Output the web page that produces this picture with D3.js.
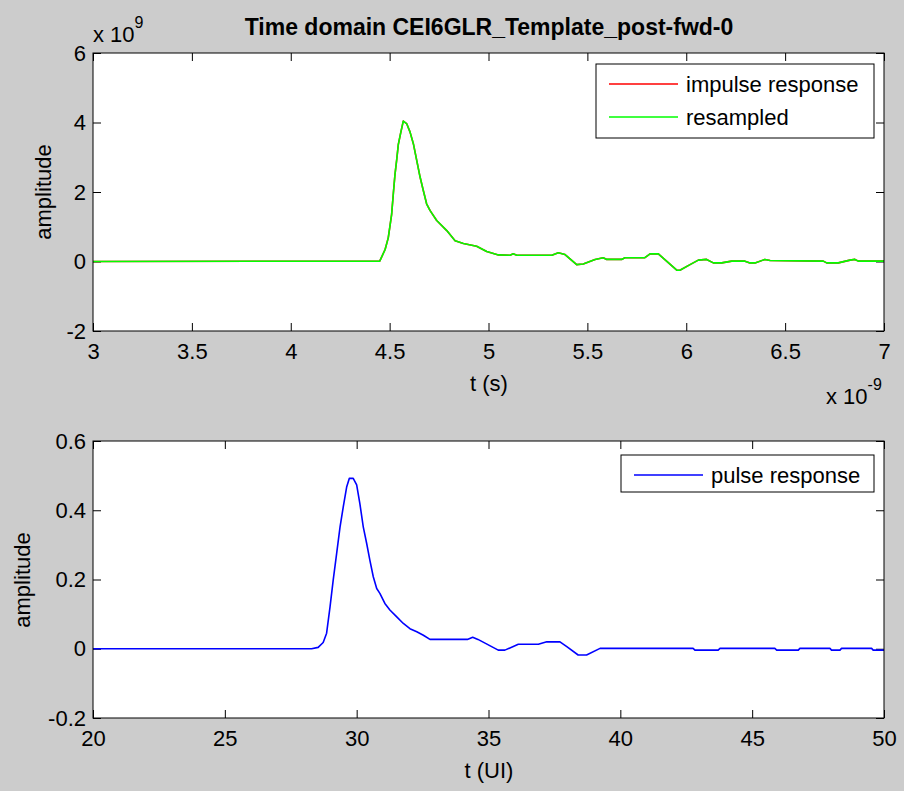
<!DOCTYPE html>
<html>
<head>
<meta charset="utf-8">
<script src="https://cdn.jsdelivr.net/npm/d3@7"></script>
<style>
  body { margin: 0; background: #cccccc; }
  svg { display: block; font-family: Arial, "Liberation Sans", Helvetica, sans-serif; }
  .axis text { font-size: 22px; fill: #000; }
  .axis line { stroke: #000; }
  .axis path { display: none; }
</style>
</head>
<body>
<div id="chart"></div>
<script>
// top plot: time (ns) and amplitude (x 1e9)
const respTime = [3.0, 4.45, 4.477, 4.493, 4.51, 4.519, 4.527, 4.536, 4.544, 4.556, 4.569, 4.586, 4.603, 4.62,
  4.637, 4.654, 4.67, 4.687, 4.704, 4.738, 4.789, 4.831, 4.873, 4.94, 4.991, 5.05, 5.109, 5.125, 5.143, 5.32,
  5.353, 5.387, 5.446, 5.479, 5.539, 5.58, 5.598, 5.673, 5.69, 5.791, 5.817, 5.859, 5.952, 5.968, 6.019, 6.061,
  6.103, 6.137, 6.179, 6.23, 6.297, 6.322, 6.348, 6.398, 6.424, 6.693, 6.71, 6.769, 6.828, 6.853, 6.87, 7.0];
const impulseVals = [0, 0.01, 0.345, 0.68, 1.35, 1.97, 2.5, 2.94, 3.37, 3.7, 4.04, 3.97, 3.73, 3.39,
  2.91, 2.43, 2.05, 1.66, 1.47, 1.18, 0.89, 0.6, 0.52, 0.44, 0.29, 0.19, 0.18, 0.22, 0.18, 0.18,
  0.25, 0.2, -0.09, -0.07, 0.06, 0.11, 0.06, 0.06, 0.11, 0.11, 0.22, 0.22, -0.25, -0.25, -0.09, 0.04,
  0.06, -0.04, -0.04, 0.01, 0.01, -0.04, -0.04, 0.06, 0.03, 0.01, -0.04, -0.04, 0.04, 0.06, 0.01, 0.01];
const resampledVals = [0, 0.01, 0.34, 0.68, 1.35, 1.97, 2.5, 2.94, 3.37, 3.7, 4.04, 3.97, 3.73, 3.39,
  2.91, 2.43, 2.05, 1.66, 1.47, 1.18, 0.89, 0.6, 0.52, 0.44, 0.29, 0.19, 0.18, 0.22, 0.18, 0.18,
  0.25, 0.2, -0.09, -0.07, 0.06, 0.11, 0.06, 0.06, 0.11, 0.11, 0.22, 0.22, -0.25, -0.25, -0.09, 0.04,
  0.06, -0.04, -0.04, 0.01, 0.01, -0.04, -0.04, 0.06, 0.03, 0.01, -0.04, -0.04, 0.04, 0.06, 0.01, 0.01];

// bottom plot: time (UI) and pulse response
const pulseTime = [20, 27.47, 28.29, 28.54, 28.73, 28.86, 28.99, 29.11, 29.24, 29.37, 29.49, 29.62, 29.72, 29.87,
  30.0, 30.12, 30.25, 30.38, 30.5, 30.63, 30.76, 30.88, 31.07, 31.26, 31.52, 31.77, 32.02, 32.28, 32.53, 32.78,
  34.2, 34.4, 34.6, 35.37, 35.62, 36.13, 36.89, 37.21, 37.71, 37.97, 38.4, 38.72, 39.23, 42.76, 42.83, 43.71,
  43.78, 45.86, 45.93, 46.75, 46.81, 47.95, 48.01, 48.33, 48.39, 49.53, 49.59, 50];
const pulseVals = [0, 0, 0, 0.004, 0.018, 0.045, 0.121, 0.198, 0.275, 0.352, 0.409, 0.467, 0.492, 0.492,
  0.473, 0.42, 0.352, 0.304, 0.256, 0.208, 0.174, 0.16, 0.131, 0.112, 0.092, 0.073, 0.058, 0.049, 0.039, 0.027,
  0.027, 0.033, 0.027, -0.004, -0.004, 0.013, 0.013, 0.02, 0.02, 0.006, -0.018, -0.018, 0.001, 0.001, -0.004, -0.004,
  0.001, 0.001, -0.004, -0.004, 0.001, 0.001, -0.004, -0.004, 0.001, 0.001, -0.004, -0.004];

const topXTicks = [3, 3.5, 4, 4.5, 5, 5.5, 6, 6.5, 7];
const topYTicks = [-2, 0, 2, 4, 6];
const botXTicks = [20, 25, 30, 35, 40, 45, 50];
const botYTicks = [-0.2, 0, 0.2, 0.4, 0.6];

const W = 904, H = 791;
const FS = 22;
const svg = d3.select('#chart').append('svg').attr('width', W).attr('height', H);
svg.append('rect').attr('width', W).attr('height', H).attr('fill', '#cccccc');

const drawAxes = (cfg) => {
  const { left, top, width, height, xDomain, yDomain, xTicks, yTicks, id } = cfg;
  const x = d3.scaleLinear().domain(xDomain).range([0, width]);
  const y = d3.scaleLinear().domain(yDomain).range([height, 0]);
  const g = svg.append('g').attr('transform', `translate(${left},${top})`);

  g.append('rect').attr('width', width).attr('height', height).attr('fill', '#fff');
  g.append('clipPath').attr('id', id).append('rect').attr('width', width).attr('height', height);

  g.append('g').attr('class', 'axis').attr('transform', `translate(0,${height})`)
    .call(d3.axisBottom(x).tickValues(xTicks).tickFormat(d => d).tickSizeInner(-8).tickSizeOuter(0).tickPadding(12));
  g.append('g').attr('class', 'axis')
    .call(d3.axisTop(x).tickValues(xTicks).tickFormat('').tickSizeInner(-8).tickSizeOuter(0));
  g.append('g').attr('class', 'axis')
    .call(d3.axisLeft(y).tickValues(yTicks).tickFormat(d => d).tickSizeInner(-8).tickSizeOuter(0).tickPadding(7));
  g.append('g').attr('class', 'axis').attr('transform', `translate(${width},0)`)
    .call(d3.axisRight(y).tickValues(yTicks).tickFormat('').tickSizeInner(-8).tickSizeOuter(0));

  const plot = g.append('g').attr('clip-path', `url(#${id})`);
  return { g, x, y, plot, width, height };
};

const addLine = (ax, xs, ys, color) => {
  const line = d3.line().x(i => ax.x(xs[i])).y(i => ax.y(ys[i]));
  ax.plot.append('path')
    .attr('d', line(d3.range(xs.length)))
    .attr('fill', 'none')
    .attr('stroke', color)
    .attr('stroke-width', 1.6)
    .attr('stroke-linejoin', 'round');
};

const frame = (ax) => {
  ax.g.append('rect').attr('width', ax.width).attr('height', ax.height)
    .attr('fill', 'none').attr('stroke', '#000').attr('stroke-width', 1);
};

// top axes
const ax1 = drawAxes({
  left: 93, top: 53, width: 791, height: 278,
  xDomain: [3, 7], yDomain: [-2, 6], xTicks: topXTicks, yTicks: topYTicks, id: 'clip1'
});
addLine(ax1, respTime, impulseVals, '#ff0000');
addLine(ax1, respTime, resampledVals, '#00ff00');
frame(ax1);

// bottom axes
const ax2 = drawAxes({
  left: 93, top: 441, width: 791, height: 277,
  xDomain: [20, 50], yDomain: [-0.2, 0.6], xTicks: botXTicks, yTicks: botYTicks, id: 'clip2'
});
addLine(ax2, pulseTime, pulseVals, '#0000ff');
frame(ax2);

// text
svg.append('text').attr('x', 489).attr('y', 35).attr('text-anchor', 'middle')
  .attr('font-size', 23).attr('font-weight', 'bold').text('Time domain CEI6GLR_Template_post-fwd-0');

svg.append('text').attr('x', 489).attr('y', 391).attr('text-anchor', 'middle').attr('font-size', FS).text('t (s)');
svg.append('text').attr('x', 489).attr('y', 778).attr('text-anchor', 'middle').attr('font-size', FS).text('t (UI)');

svg.append('text').attr('transform', 'translate(51,192) rotate(-90)').attr('text-anchor', 'middle')
  .attr('font-size', FS).text('amplitude');
svg.append('text').attr('transform', 'translate(30,580) rotate(-90)').attr('text-anchor', 'middle')
  .attr('font-size', FS).text('amplitude');

// exponent labels
const expTop = svg.append('text').attr('x', 93).attr('y', 42).attr('font-size', FS);
expTop.append('tspan').text('x 10');
expTop.append('tspan').attr('dy', -14).attr('font-size', 16).text('9');

const expBot = svg.append('text').attr('x', 826).attr('y', 404).attr('font-size', FS);
expBot.append('tspan').text('x 10');
expBot.append('tspan').attr('dy', -14).attr('font-size', 16).text('-9');

// legends
const legend = (x0, y0, w, h, items) => {
  const lg = svg.append('g').attr('transform', `translate(${x0},${y0})`);
  lg.append('rect').attr('width', w).attr('height', h).attr('fill', '#fff').attr('stroke', '#000');
  items.forEach((it, i) => {
    const cy = 20 + i * 33;
    lg.append('line').attr('x1', 13).attr('x2', 82).attr('y1', cy).attr('y2', cy)
      .attr('stroke', it.color).attr('stroke-width', 1.6);
    lg.append('text').attr('x', 90).attr('y', cy + 8).attr('font-size', FS).text(it.label);
  });
};
legend(596, 64, 278, 74, [
  { label: 'impulse response', color: '#ff0000' },
  { label: 'resampled', color: '#00ff00' }
]);
legend(621, 455, 253, 37, [
  { label: 'pulse response', color: '#0000ff' }
]);
</script>
</body>
</html>
